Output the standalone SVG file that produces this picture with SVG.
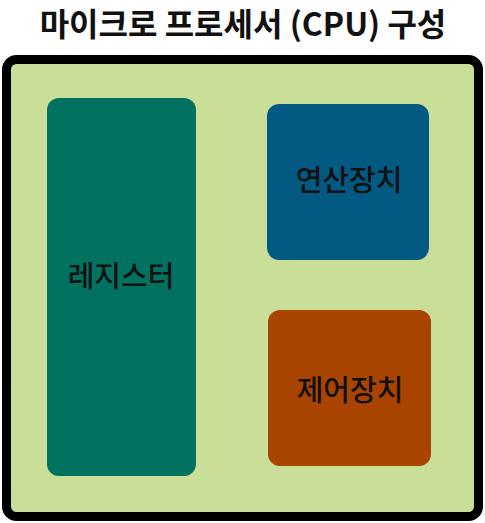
<svg xmlns="http://www.w3.org/2000/svg" width="485" height="523" viewBox="0 0 485 523">
<style>
.title{font-family:"Noto Sans CJK KR","Noto Sans",sans-serif;font-size:32px;font-weight:bold;fill:#111;text-anchor:middle}
.lbl{font-family:"Noto Sans CJK KR","Noto Sans",sans-serif;font-size:29px;font-weight:500;fill:#111;text-anchor:middle;dominant-baseline:central}
.box{stroke:none}
</style>
<rect width="485" height="523" fill="#ffffff"/>
<text class="title" x="243" y="36">마이크로 프로세서 (CPU) 구성</text>
<g id="cpu">
<rect x="6.5" y="59.5" width="472" height="457" rx="10" fill="#C9DF98" stroke="#000" stroke-width="9"/>
</g>
<g id="register">
<rect class="box" x="47" y="98" width="149" height="378" rx="12" fill="#00725F"/>
<text class="lbl" x="121" y="274">레지스터</text>
</g>
<g id="alu">
<rect class="box" x="267" y="104" width="162" height="156" rx="12" fill="#025982"/>
<text class="lbl" x="349" y="178">연산장치</text>
</g>
<g id="control">
<rect class="box" x="268" y="310" width="163" height="156" rx="12" fill="#A84400"/>
<text class="lbl" x="350" y="388">제어장치</text>
</g>
<g id="connectors"></g>
</svg>
